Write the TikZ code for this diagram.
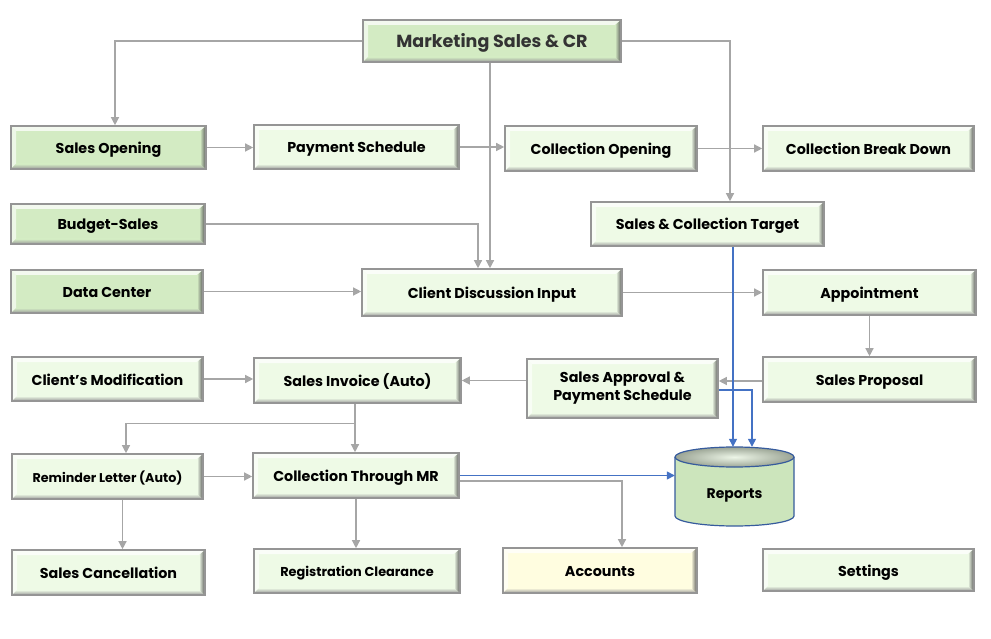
\documentclass[tikz,border=0pt]{standalone}
\usepackage{fontspec}
\setmainfont{Poppins}[Ligatures=ResetAll]
\usetikzlibrary{positioning,arrows.meta,calc}

\definecolor{dkgreen}{HTML}{D3EBC3}
\definecolor{ltgreen}{HTML}{EEFAE6}
\definecolor{ltyellow}{HTML}{FFFDE0}
\definecolor{linegray}{HTML}{A6A6A6}
\definecolor{rimgray}{HTML}{959595}
\definecolor{repblue}{HTML}{4472C4}
\definecolor{repfill}{HTML}{CCE5BC}

\begin{document}
\begin{tikzpicture}[x=1pt,y=-1pt,
  modbox/.style={draw=rimgray,line width=1.6pt,inner sep=0pt,fill=#1,
    font=\bfseries\fontsize{14.3}{16}\selectfont,text height=12pt,text depth=0pt,
    path picture={
      \coordinate (pNW) at (path picture bounding box.north west);
      \coordinate (pNE) at (path picture bounding box.north east);
      \coordinate (pSW) at (path picture bounding box.south west);
      \coordinate (pSE) at (path picture bounding box.south east);
      \fill[white,opacity=0.75] (pNW) -- (pNE) -- ([shift={(-6pt,-5pt)}]pNE) -- ([shift={(5pt,-5pt)}]pNW) -- cycle;
      \fill[white,opacity=0.6] (pNW) -- ([shift={(5pt,-5pt)}]pNW) -- ([shift={(5pt,5pt)}]pSW) -- (pSW) -- cycle;
      \shade[top color=#1,bottom color=black!40] ([shift={(5pt,5pt)}]pSW) -- ([shift={(-6pt,5pt)}]pSE) -- (pSE) -- (pSW) -- cycle;
      \shade[left color=#1,right color=black!65] ([shift={(-6pt,-5pt)}]pNE) -- (pNE) -- (pSE) -- ([shift={(-6pt,5pt)}]pSE) -- cycle;
    }},
  conn/.style={draw=linegray,line width=1.3pt,-{Triangle[length=8pt,width=8pt]}},
  feed/.style={draw=repblue,line width=1.3pt,-{Triangle[length=8pt,width=8pt]}}]
\useasboundingbox (0,0) rectangle (991,639);
% boxes, first row
\node[modbox=dkgreen,minimum width=258,minimum height=42,font=\bfseries\fontsize{17.5}{20}\selectfont,text height=14pt,text=black!80] (mkt) at (492,41) {Marketing Sales \& CR};
\node[modbox=dkgreen,minimum width=195,minimum height=43] (sopen) at (108.5,147.5) {Sales Opening};
\node[modbox=ltgreen,minimum width=205,minimum height=44] (pay) at (356.5,147) {Payment Schedule};
\node[modbox=ltgreen,minimum width=192,minimum height=45] (copen) at (601,148.5) {Collection Opening};
\node[modbox=ltgreen,minimum width=211,minimum height=45] (cbreak) at (868.5,148.5) {Collection Break Down};
% middle rows
\node[modbox=ltgreen,minimum width=233,minimum height=44] (sct) at (707.5,224) {Sales \& Collection Target};
\node[modbox=dkgreen,minimum width=194,minimum height=40] (budget) at (108,224) {Budget-Sales};
\node[modbox=dkgreen,minimum width=192,minimum height=43] (dcenter) at (107,291.5) {Data Center};
\node[modbox=ltgreen,minimum width=260,minimum height=47] (cdi) at (492,292.5) {Client Discussion Input};
\node[modbox=ltgreen,minimum width=213,minimum height=45] (appt) at (869.5,292.5) {Appointment};
\node[modbox=ltgreen,minimum width=191,minimum height=44] (cmod) at (107.5,379) {Client's Modification};
\node[modbox=ltgreen,minimum width=207,minimum height=45] (sinv) at (357.5,380.5) {Sales Invoice (Auto)};
\node[modbox=ltgreen,minimum width=191,minimum height=59,align=center,text height=,text depth=,font=\bfseries\fontsize{14.3}{18}\selectfont] (sapp) at (622.5,388.5) {Sales Approval \&\\Payment Schedule};
\node[modbox=ltgreen,minimum width=213,minimum height=45] (sprop) at (869.5,379.5) {Sales Proposal};
\node[modbox=ltgreen,minimum width=191,minimum height=45,font=\bfseries\fontsize{12.7}{15}\selectfont,text height=11pt] (remind) at (107.5,476.5) {Reminder Letter (Auto)};
\node[modbox=ltgreen,minimum width=206,minimum height=45] (ctmr) at (356,475.5) {Collection Through MR};
% last row
\node[modbox=ltgreen,minimum width=193,minimum height=45] (scancel) at (108.5,572.5) {Sales Cancellation};
\node[modbox=ltgreen,minimum width=206,minimum height=44,font=\bfseries\fontsize{12.9}{15}\selectfont,text height=11pt] (regclr) at (357,571) {Registration Clearance};
\node[modbox=ltyellow,minimum width=194,minimum height=45] (accts) at (600,570.5) {Accounts};
\node[modbox=ltgreen,minimum width=211,minimum height=42] (settings) at (868.5,570) {Settings};
% reports store
\node[inner sep=0pt,minimum width=119,minimum height=79] (rep) at (734.5,486.5) {};
\fill[repfill] (675,457) -- (675,516) arc[start angle=180,end angle=0,x radius=59.5,y radius=10] -- (794,457) -- cycle;
\shade[inner color=repfill!35!white,outer color=repfill!55!black!70] (734.5,457) ellipse[x radius=59.5,y radius=10];
\draw[repblue!80!black,line width=1.2pt] (675,457) -- (675,516) arc[start angle=180,end angle=0,x radius=59.5,y radius=10] -- (794,457);
\draw[repblue!80!black,line width=1.2pt] (734.5,457) ellipse[x radius=59.5,y radius=10];
\node[font=\bfseries\fontsize{14}{16}\selectfont,text height=12pt,text depth=0pt] (replbl) at ([yshift=-5.5pt]rep.center) {Reports};
% gray connectors
\draw[conn] (mkt.west) -| ([xshift=6.5pt]sopen.north);
\draw[conn] (mkt.east) -| ([xshift=22.5pt]sct.north);
\draw[conn] ([xshift=-2pt]mkt.south) -- ([xshift=-2pt]cdi.north);
\draw[conn] (budget.east) -| ([xshift=-14pt]cdi.north);
\draw[conn] (dcenter.east) -- (dcenter.east -| cdi.west);
\draw[conn] (sopen.east) -- (sopen.east -| pay.west);
\draw[conn] (pay.east) -- (pay.east -| copen.west);
\draw[conn] (copen.east) -- (copen.east -| cbreak.west);
\draw[conn] (cdi.east) -- (cdi.east -| appt.west);
\draw[conn] (appt.south) -- (appt.south |- sprop.north);
\draw[conn] ([yshift=-1.5pt]sprop.west) -- ([yshift=-1.5pt]sprop.west -| sapp.east);
\draw[conn] (sapp.west |- sinv.east) -- (sinv.east);
\draw[conn] (cmod.east) -- (cmod.east -| sinv.west);
\draw[conn] ([xshift=-2.5pt]sinv.south) -- ([xshift=-1pt]ctmr.north);
\coordinate (split) at ([xshift=-2.5pt,yshift=-20pt]sinv.south);
\draw[conn] (split) -| ([xshift=18.5pt]remind.north);
\draw[conn] (remind.east) -- (remind.east -| ctmr.west);
\draw[conn] ([xshift=15pt]remind.south) -- ([xshift=15pt]remind.south |- scancel.north);
\draw[conn] (ctmr.south) -- (ctmr.south |- regclr.north);
\draw[conn] ([yshift=-5.5pt]ctmr.east) -| ([xshift=22pt]accts.north);
% blue feeds into reports
\draw[feed] (ctmr.east) -- (ctmr.east -| rep.west);
\draw[feed] ([xshift=25.5pt]sct.south) -- ([xshift=25.5pt]sct.south |- rep.north);
\draw[feed] ([yshift=-1.5pt]sapp.east) -| ([xshift=17.5pt]rep.north);
\end{tikzpicture}
\end{document}
